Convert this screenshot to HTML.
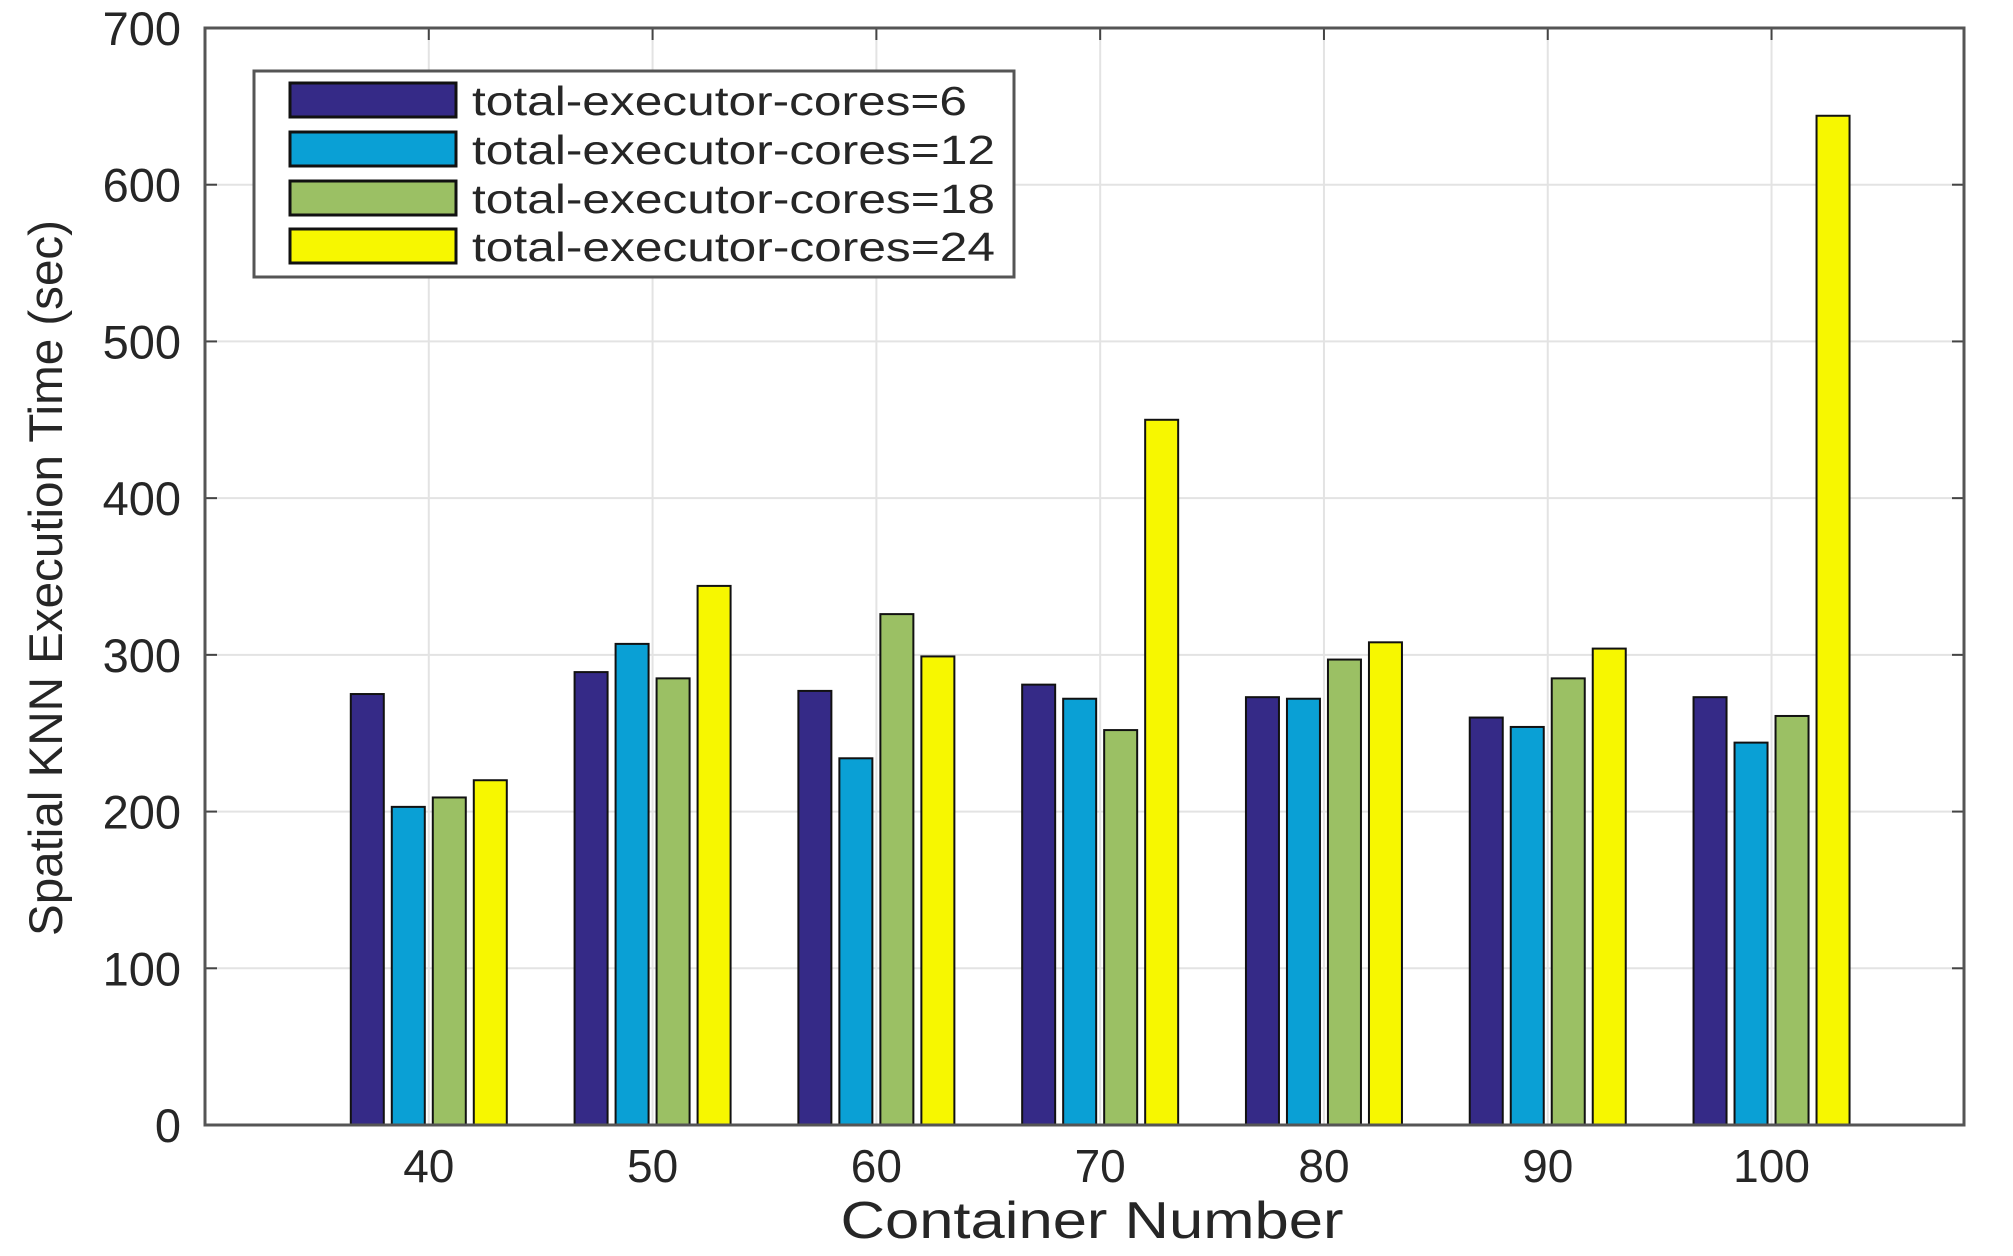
<!DOCTYPE html>
<html><head><meta charset="utf-8"><style>
html,body{margin:0;padding:0;background:#fff;}
svg{display:block;font-family:"Liberation Sans",Arial,sans-serif;}
</style></head><body>
<svg id="chart" width="2013" height="1256" viewBox="0 0 2013 1256">
<g id="grid"></g>
<g id="bars"></g>
<g id="axes"></g>
<text x="1092" y="1238" font-size="52" text-anchor="middle" fill="#262626" textLength="503" lengthAdjust="spacingAndGlyphs">Container Number</text>
<text transform="translate(62,578) rotate(-90)" font-size="47" text-anchor="middle" fill="#262626" textLength="716" lengthAdjust="spacingAndGlyphs">Spatial KNN Execution Time (sec)</text>
<g id="legend"></g>
</svg>
<script>
const categories = [40, 50, 60, 70, 80, 90, 100];
const seriesNames = ["total-executor-cores=6","total-executor-cores=12","total-executor-cores=18","total-executor-cores=24"];
const cores6 = [275, 289, 277, 281, 273, 260, 273];
const cores12 = [203, 307, 234, 272, 272, 254, 244];
const cores18 = [209, 285, 326, 252, 297, 285, 261];
const cores24 = [220, 344, 299, 450, 308, 304, 644];
const yTicks = [0, 100, 200, 300, 400, 500, 600, 700];
const xTicks = [40, 50, 60, 70, 80, 90, 100];
const colors = ["#352a87","#0aa0d5","#9bc064","#f7f700"];
const series = [cores6, cores12, cores18, cores24];

const NS = "http://www.w3.org/2000/svg";
const L = 205, R = 1964, T = 28, B = 1125;
const xMin = 30, xMax = 108.6, yMin = 0, yMax = 700;
const xs = v => L + (v - xMin) / (xMax - xMin) * (R - L);
const ys = v => B - (v - yMin) / (yMax - yMin) * (B - T);
function mk(tag, attrs, parent){const e=document.createElementNS(NS,tag);for(const k in attrs)e.setAttribute(k,attrs[k]);parent.appendChild(e);return e;}
const grid = document.getElementById('grid'), barsG = document.getElementById('bars'), axes = document.getElementById('axes'), leg = document.getElementById('legend');

yTicks.forEach(t=>{
  const l = mk('line',{x1:L,x2:R,y1:ys(t),y2:ys(t),stroke:'#e3e3e3','stroke-width':2},grid);
  
  
  const tx = mk('text',{x:181,y:ys(t)+17,'font-size':47,'text-anchor':'end',fill:'#262626'},axes);
  tx.textContent = t;
  
  
  mk('line',{x1:L,x2:L+12,y1:ys(t),y2:ys(t),stroke:'#444','stroke-width':2},axes);
  mk('line',{x1:R,x2:R-12,y1:ys(t),y2:ys(t),stroke:'#444','stroke-width':2},axes);
});
xTicks.forEach(t=>{
  const l = mk('line',{x1:xs(t),x2:xs(t),y1:T,y2:B,stroke:'#e3e3e3','stroke-width':2},grid);
  
  
  const tx = mk('text',{x:xs(t),y:1182,'font-size':46,'text-anchor':'middle',fill:'#262626'},axes);
  tx.textContent = t;
  
  
  mk('line',{x1:xs(t),x2:xs(t),y1:T,y2:T+12,stroke:'#444','stroke-width':2},axes);
});

const pitch = 41, bw = 33;
series.forEach((vals, si)=>{
  vals.forEach((v, ci)=>{
    const cx = xs(categories[ci]) + (si - 1.5) * pitch;
    const r = mk('rect',{x:cx-bw/2,y:ys(v),width:bw,height:ys(0)-ys(v),fill:colors[si],stroke:'#111','stroke-width':2},barsG);
    
    
  });
});

mk('rect',{x:L,y:T,width:R-L,height:B-T,fill:'none',stroke:'#555','stroke-width':3},axes);

const lb = mk('rect',{x:254,y:71,width:760,height:206,fill:'#fff',stroke:'#555','stroke-width':3},leg);


const rowsY = [100, 149, 198, 246];
seriesNames.forEach((n, i)=>{
  const s = mk('rect',{x:290,y:rowsY[i]-17,width:166,height:34,fill:colors[i],stroke:'#111','stroke-width':3},leg);
  
  
  const tx = mk('text',{x:472,y:rowsY[i]+15,'font-size':41,fill:'#262626',textLength:(i==0?495:523),lengthAdjust:'spacingAndGlyphs'},leg);
  tx.textContent = n;
  
  
});
</script>
</body></html>
